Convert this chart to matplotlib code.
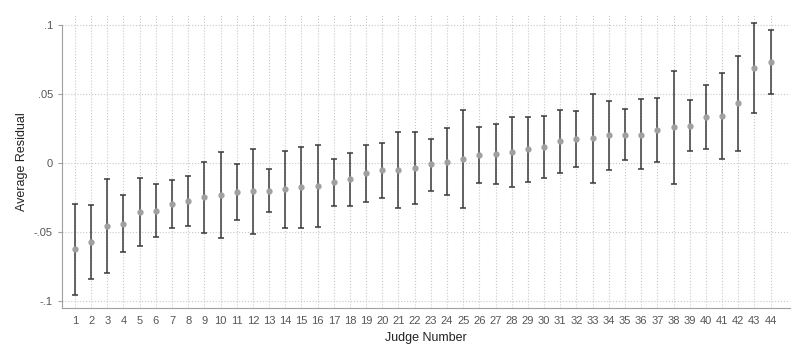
import numpy as np
import matplotlib.pyplot as plt

plt.rcParams['font.family'] = ['Liberation Sans', 'DejaVu Sans']

# judge numbers and average residuals with confidence bounds
judges = list(range(1, 45))
mean = [-0.0627, -0.0570, -0.0457, -0.0440, -0.0353, -0.0346, -0.0298, -0.0278,
        -0.0249, -0.0230, -0.0208, -0.0205, -0.0203, -0.0193, -0.0176, -0.0167,
        -0.0140, -0.0120, -0.0075, -0.0053, -0.0051, -0.0036, -0.0012, 0.0007,
        0.0027, 0.0058, 0.0065, 0.0080, 0.0097, 0.0114, 0.0155, 0.0170,
        0.0182, 0.0199, 0.0203, 0.0203, 0.0237, 0.0257, 0.0269, 0.0330,
        0.0339, 0.0433, 0.0688, 0.0731]
upper = [-0.0300, -0.0305, -0.0120, -0.0236, -0.0111, -0.0150, -0.0126, -0.0092,
         0.0005, 0.0078, -0.0012, 0.0102, -0.0048, 0.0083, 0.0116, 0.0126,
         0.0029, 0.0068, 0.0129, 0.0141, 0.0223, 0.0223, 0.0174, 0.0252,
         0.0383, 0.0259, 0.0279, 0.0334, 0.0334, 0.0341, 0.0383, 0.0373,
         0.0499, 0.0446, 0.0392, 0.0460, 0.0468, 0.0664, 0.0455, 0.0562,
         0.0653, 0.0770, 0.1009, 0.0961]
lower = [-0.0958, -0.0837, -0.0796, -0.0646, -0.0600, -0.0540, -0.0469, -0.0460,
         -0.0508, -0.0547, -0.0411, -0.0513, -0.0358, -0.0469, -0.0474, -0.0465,
         -0.0309, -0.0309, -0.0280, -0.0251, -0.0324, -0.0295, -0.0203, -0.0232,
         -0.0324, -0.0145, -0.0150, -0.0174, -0.0138, -0.0111, -0.0075, -0.0033,
         -0.0145, -0.0053, 0.0017, -0.0048, 0.0005, -0.0150, 0.0087, 0.0097,
         0.0025, 0.0087, 0.0363, 0.0499]
yticks = [-0.1, -0.05, 0, 0.05, 0.1]
ylabels = ['-.1', '-.05', '0', '.05', '.1']

x = np.array(judges)
m = np.array(mean)
err = [m - np.array(lower), np.array(upper) - m]

fig = plt.figure(figsize=(8, 3.54), dpi=100)
ax = fig.add_axes([0.0775, 0.13, 0.91, 0.828])

ax.errorbar(x, m, yerr=err, fmt='none', ecolor='#3a3a3a', elinewidth=1.1,
            capsize=2.5, capthick=1.1, zorder=3)
ax.plot(x, m, 'o', color='#a0a0a0', markersize=3.5, zorder=4)

ax.set_xlim(0.2, 45.2)
ax.set_ylim(-0.105, 0.107)
ax.set_xticks(judges)
ax.set_yticks(yticks)
ax.set_yticklabels(ylabels)
ax.grid(True, linestyle=':', color='#c8c8c8', linewidth=0.8)
ax.set_axisbelow(True)

for s in ['top', 'right']:
    ax.spines[s].set_visible(False)
ax.spines['left'].set_color('#a0a0a0')
ax.spines['bottom'].set_color('#a0a0a0')
ax.spines['left'].set_bounds(-0.105, 0.1)
ax.tick_params(axis='both', colors='#a0a0a0', labelcolor='#555555',
               labelsize=8, length=3)
ax.tick_params(axis='x', length=0, pad=6)

ax.set_xlabel('Judge Number', fontsize=9, color='#222222')
ax.set_ylabel('Average Residual', fontsize=9, color='#222222', labelpad=4)

fig.savefig('out.png', dpi=100)
